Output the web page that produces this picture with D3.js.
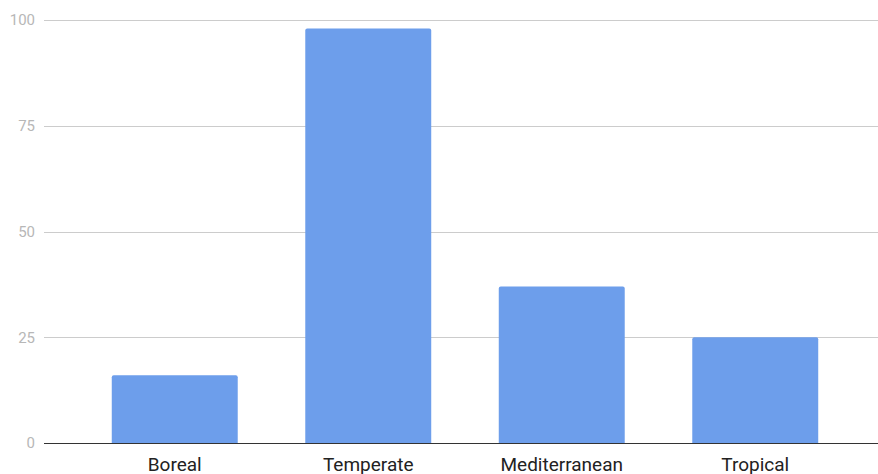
<!DOCTYPE html>
<html><head><meta charset="utf-8">
<script src="https://cdn.jsdelivr.net/npm/d3@7"></script>
<style>body{margin:0;background:#fff}svg{display:block}</style>
</head><body><svg id="c" width="878" height="474"></svg>
<script>
const categories = ["Boreal", "Temperate", "Mediterranean", "Tropical"];
const values = [16, 98, 37, 25];
const yTicks = [0, 25, 50, 75, 100];

const svg = d3.select("#c");
const x = d3.scaleBand().domain(categories).range([78, 852]).paddingInner(0.349).paddingOuter(0.1745);
const y = d3.scaleLinear().domain([0, 100]).range([443, 20]);

// gridlines
svg.append("g").selectAll("line").data(yTicks.filter(d => d !== 0)).join("line")
  .attr("x1", 44).attr("x2", 878)
  .attr("y1", d => Math.round(y(d)) + 0.5).attr("y2", d => Math.round(y(d)) + 0.5)
  .attr("stroke", "#cccccc").attr("stroke-width", 1);

// y tick labels
svg.append("g").selectAll("text").data(yTicks).join("text")
  .attr("x", 35).attr("y", d => y(d)).attr("dy", "0.35em")
  .attr("text-anchor", "end")
  .attr("font-family", "Roboto, sans-serif").attr("font-size", 15)
  .attr("fill", "#b7b7b7").text(d => d);

// bars with rounded top corners
const r = 2;
function barPath(d, i) {
  const x0 = x(categories[i]), w = x.bandwidth(), y0 = y(d), yb = y(0);
  return `M${x0},${yb}V${y0 + r}Q${x0},${y0} ${x0 + r},${y0}H${x0 + w - r}Q${x0 + w},${y0} ${x0 + w},${y0 + r}V${yb}Z`;
}
svg.append("g").selectAll("path").data(values).join("path")
  .attr("d", (d, i) => barPath(d, i)).attr("fill", "#6d9eeb");

// baseline
svg.append("line").attr("x1", 44).attr("x2", 878)
  .attr("y1", Math.round(y(0)) + 0.5).attr("y2", Math.round(y(0)) + 0.5)
  .attr("stroke", "#333333").attr("stroke-width", 1);

// category labels
svg.append("g").selectAll("text").data(categories).join("text")
  .attr("x", d => x(d) + x.bandwidth() / 2).attr("y", 471)
  .attr("text-anchor", "middle")
  .attr("font-family", "Roboto, sans-serif").attr("font-size", 19)
  .attr("fill", "#222222").text(d => d);
</script></body></html>
